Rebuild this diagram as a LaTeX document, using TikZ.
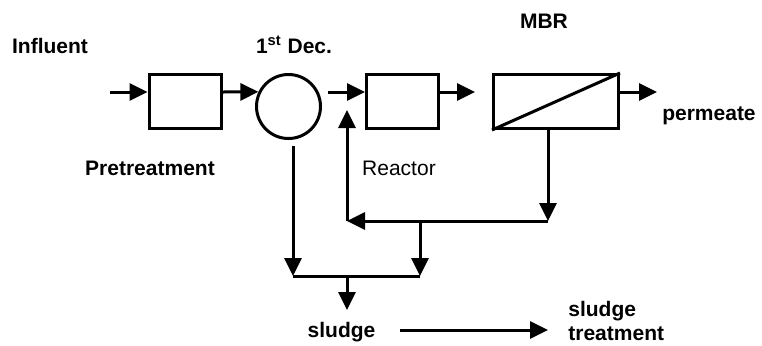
\documentclass[tikz,border=0pt]{standalone}
\usepackage{fontspec}
\setmainfont{Liberation Sans}
\usepackage{tikz}
\usetikzlibrary{arrows.meta, positioning}

\tikzset{
    hop/.style={draw, line width=1.5pt, minimum width=36pt, minimum height=27pt, inner sep=0pt},
    nhan/.style={font=\bfseries\fontsize{10.5}{12}\selectfont, inner sep=0pt, anchor=base},
    dong/.style={line width=1.5pt, ->}
}

\begin{document}
\begin{tikzpicture}[>={Triangle[length=9pt, width=8.5pt]}, x=0.5pt, y=-0.5pt]
    \useasboundingbox (0,0) rectangle (762,345);

    % Các bể
    \node[hop] (pre) at (185,101.5) {};
    \node[draw, circle, line width=1.5pt, minimum size=32pt, inner sep=0pt] (dec) at (288.5,106.5) {};
    \node[hop] (reac) at (402.5,101.5) {};
    \node[hop, minimum width=62.5pt] (mbr) at (556,101.5) {};
    \draw[line width=1.5pt] (mbr.south west) -- (mbr.north east);

    % Nhãn
    \node[nhan] (influent) at (50,53) {Influent};
    \node[nhan] (declbl) at (294,53) {1\textsuperscript{st} Dec.};
    \node[nhan] (pretr) at (150,175) {Pretreatment};
    \node[nhan, font=\fontsize{10.5}{12}\selectfont] (reaclbl) at (399,175) {Reactor};
    \node[nhan] (mbrlbl) at (544,28) {MBR};
    \node[nhan] (perm) at (709,120) {permeate};
    \node[nhan] (sludge) at (341.5,337) {sludge};
    \node[nhan, align=left, anchor=base west] (treat) at (568,340) {sludge\\treatment};

    % Các mốc
    \coordinate (in0) at (110,92);
    \coordinate (c1) at (328,92);
    \coordinate (r2) at (475,92);
    \coordinate (p2) at (657,92);
    \coordinate (j1) at (548,221);
    \coordinate (j2) at (347,221);
    \coordinate (j3) at (347,110);
    \coordinate (j4) at (420,221);
    \coordinate (j5) at (420,276);
    \coordinate (d1) at (293,146);
    \coordinate (j6) at (293,276);
    \coordinate (j7) at (347,276);
    \coordinate (j8) at (347,310);
    \coordinate (s1) at (400,330);
    \coordinate (s2) at (548,330);

    % Dòng chính
    \draw[dong] (in0) -- (in0 -| pre.west);
    \draw[dong] (in0 -| pre.east) -- (dec.154);
    \draw[dong] (c1) -- (c1 -| reac.west);
    \draw[dong] (r2 -| reac.east) -- (r2);
    \draw[dong] (p2 -| mbr.east) -- (p2);

    % Tuần hoàn và bùn
    \draw[dong] (mbr.south -| j1) -- (j1);
    \draw[dong] (j1) -- (j2);
    \draw[dong] (j2) -- (j3);
    \draw[dong] (j4) -- (j5);
    \draw[dong] (d1) -- (j6);
    \draw[line width=1.5pt] (j6) -- (j5);
    \draw[dong] (j7) -- (j8);
    \draw[dong] (s1) -- (s2);
\end{tikzpicture}
\end{document}
